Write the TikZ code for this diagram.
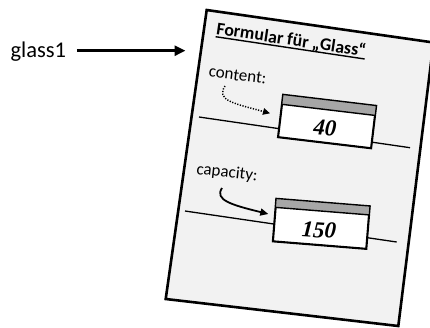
\documentclass[tikz,border=0pt]{standalone}
\usepackage{fontspec}
\setmainfont{Carlito}
\newfontfamily\numfont{Liberation Serif}
\usetikzlibrary{arrows.meta,calc}

\definecolor{paperfill}{HTML}{F2F2F2}
\definecolor{barfill}{HTML}{A6A6A6}

% underline drawn as a rule under the text
\newcommand\ulbar[1]{\setbox0=\hbox{#1}\rlap{\rule[-3.1pt]{\wd0}{1.4pt}}\box0}

\tikzset{
  paper/.style={draw=black, line width=2.6pt, fill=paperfill, line join=miter},
  plaintext/.style={inner sep=0pt, font=\fontsize{17}{19}\selectfont},
  nametext/.style={inner sep=0pt, font=\fontsize{22.5}{25}\selectfont},
  titletext/.style={inner sep=0pt, font=\fontsize{17.8}{20}\selectfont\bfseries},
  valbox/.style={draw=black, fill=white, line width=1.4pt, minimum width=93pt,
                 minimum height=42pt, inner sep=0pt, line join=miter},
  valtext/.style={inner sep=0pt, font=\numfont\fontsize{23}{25}\selectfont\bfseries\itshape},
  throughline/.style={draw=black, line width=1.3pt},
  bigarrow/.style={draw=black, line width=3pt, -{Triangle[length=11pt,width=10pt]}},
  dotarrow/.style={draw=black, line width=1.5pt, dash pattern=on 1.2pt off 1.5pt,
                   -{Triangle[length=7pt,width=6.5pt]}},
  curvearrow/.style={draw=black, line width=1.8pt, -{Triangle[length=8pt,width=7pt]}},
}

\begin{document}
\begin{tikzpicture}[x=1pt,y=-1pt]
  \useasboundingbox (0,0) rectangle (430,327);

  % the sheet of paper, partly outside on the right
  \begin{scope}
    \clip (0,0) rectangle (430,327);
    \path[paper] (206.7,10) -- (165.7,299) -- (398.3,326) -- (433.5,42.5) -- cycle;
  \end{scope}

  % variable name and its reference arrow
  \node[nametext, anchor=base] (glass1) at (38.3,57.3) {glass1};
  \coordinate (ptip) at (185.5,50.7);
  \draw[bigarrow, shorten <=10.7pt] (glass1.east |- ptip) -- (ptip);

  % heading of the form
  \node[titletext, anchor=base west, rotate=-8.5] (title) at (215.7,34.3)
    {\ulbar{Formular für „Glass“}};

  % field "content"
  \node[plaintext, anchor=base, rotate=-7] (clabel) at (237,80.5) {content:};
  \coordinate (cl1) at (199,117);
  \coordinate (cl2) at (410,147.7);
  \draw[throughline] (cl1) -- (cl2);
  \node[valbox, rotate=-6.8] (cbox) at (327.1,121.5) {};
  \fill[barfill] (cbox.north west) -- (cbox.north east)
    -- ($(cbox.north east)!10pt!(cbox.south east)$)
    -- ($(cbox.north west)!10pt!(cbox.south west)$) -- cycle;
  \draw[line width=1.4pt, line join=miter] (cbox.north west) -- (cbox.north east)
    -- (cbox.south east) -- (cbox.south west) -- cycle;
  \draw[line width=1.4pt] ($(cbox.north west)!10pt!(cbox.south west)$)
    -- ($(cbox.north east)!10pt!(cbox.south east)$);
  \node[valtext, rotate=-4] (cval) at (325,127.5) {40};
  \coordinate (cs) at (225,86);
  \coordinate (ce) at (270,113.3);
  \draw[dotarrow] (cs) .. controls (216,100) and (232,103) .. (ce);

  % field "capacity"
  \node[plaintext, anchor=base, rotate=-6.5] (klabel) at (226.5,177.5) {capacity:};
  \coordinate (kl1) at (185,211);
  \coordinate (kl2) at (396.7,242);
  \draw[throughline] (kl1) -- (kl2);
  \node[valbox, rotate=-4.6] (kbox) at (321.3,223.8) {};
  \fill[barfill] (kbox.north west) -- (kbox.north east)
    -- ($(kbox.north east)!9pt!(kbox.south east)$)
    -- ($(kbox.north west)!9pt!(kbox.south west)$) -- cycle;
  \draw[line width=1.4pt, line join=miter] (kbox.north west) -- (kbox.north east)
    -- (kbox.south east) -- (kbox.south west) -- cycle;
  \draw[line width=1.4pt] ($(kbox.north west)!9pt!(kbox.south west)$)
    -- ($(kbox.north east)!9pt!(kbox.south east)$);
  \node[valtext, rotate=-4] (kval) at (319,230) {150};
  \coordinate (ks) at (222,188);
  \coordinate (ke) at (268.3,214);
  \draw[curvearrow] (ks) .. controls (214,200) and (232,205) .. (ke);
\end{tikzpicture}
\end{document}
